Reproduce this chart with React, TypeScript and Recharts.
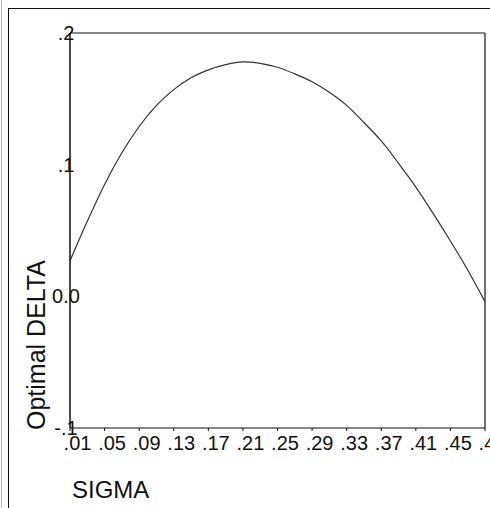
import { LineChart, Line, XAxis, YAxis, ReferenceLine } from 'recharts';

const sigma = [
  0.01, 0.03, 0.05, 0.07, 0.09, 0.11, 0.13, 0.15, 0.17, 0.19, 0.21, 0.23, 0.25,
  0.27, 0.29, 0.31, 0.33, 0.35, 0.37, 0.39, 0.41, 0.43, 0.45, 0.47, 0.49,
];
const optimalDelta = [
  0.027, 0.057, 0.085, 0.109, 0.129, 0.145, 0.157, 0.166, 0.172, 0.176, 0.178,
  0.177, 0.174, 0.169, 0.163, 0.155, 0.145, 0.132, 0.118, 0.101, 0.083, 0.063,
  0.042, 0.02, -0.004,
];
const xTicks = [0.01, 0.05, 0.09, 0.13, 0.17, 0.21, 0.25, 0.29, 0.33, 0.37, 0.41, 0.45, 0.49];
const xTickLabels = ['.01', '.05', '.09', '.13', '.17', '.21', '.25', '.29', '.33', '.37', '.41', '.45', '.49'];
const yTicks = [-0.1, 0, 0.1, 0.2];
const yTickLabels = ['-.1', '0.0', '.1', '.2'];

const data = sigma.map((s, i) => ({ sigma: s, delta: optimalDelta[i] }));

const FONT = '"Liberation Sans", Arial, sans-serif';
const INK = '#111';

function XTick(props: any) {
  const { x, y, payload } = props;
  const i = xTicks.indexOf(payload.value);
  return (
    <text x={x + 7.5} y={y + 17} textAnchor="middle" fontFamily={FONT} fontSize={20} fill={INK}>
      {i >= 0 ? xTickLabels[i] : payload.value}
    </text>
  );
}

function YTick(props: any) {
  const { x, y, payload } = props;
  const i = yTicks.indexOf(payload.value);
  return (
    <text x={x - 4} y={y} textAnchor="middle" dominantBaseline="central" fontFamily={FONT} fontSize={20} fill={INK}>
      {i >= 0 ? yTickLabels[i] : payload.value}
    </text>
  );
}

function SigmaLabel(props: any) {
  const vb = props.viewBox || { x: 61, y: 419 };
  return (
    <text x={vb.x + 2} y={vb.y + 70} fontFamily={FONT} fontSize={24} fill={INK}>
      SIGMA
    </text>
  );
}

function DeltaLabel(props: any) {
  const vb = props.viewBox || { x: 0, y: 24, height: 395 };
  const x = vb.x + 36;
  const y = vb.y + vb.height + 2;
  return (
    <text x={x} y={y} transform={`rotate(-90 ${x} ${y})`} fontFamily={FONT} fontSize={25} fill={INK}>
      Optimal DELTA
    </text>
  );
}

export default function App() {
  return (
    <div style={{ position: 'relative', width: 490, height: 508, background: '#fff', overflow: 'hidden' }}>
      <style>{'body{margin:0;overflow:hidden}'}</style>
      <div style={{ position: 'absolute', left: 1, top: 0, width: 1, height: 508, background: '#bbb' }} />
      <div
        style={{
          position: 'absolute',
          left: 8,
          top: 8,
          right: 0,
          bottom: 0,
          borderTop: `1px solid ${INK}`,
          borderLeft: `1px solid ${INK}`,
        }}
      />
      <div style={{ position: 'absolute', left: 9, top: 9 }}>
        <LineChart width={481} height={499} data={data} margin={{ top: 24, right: 5, left: 0, bottom: 0 }}>
          <XAxis
            dataKey="sigma"
            type="number"
            domain={[0.01, 0.49]}
            ticks={xTicks}
            interval={0}
            height={80}
            tickSize={3}
            tickMargin={2}
            stroke={INK}
            tick={<XTick />}
            label={<SigmaLabel />}
          />
          <YAxis
            type="number"
            domain={[-0.1, 0.2]}
            ticks={yTicks}
            interval={0}
            width={61}
            tickSize={0}
            tickMargin={0}
            stroke={INK}
            strokeWidth={1.5}
            tick={<YTick />}
            label={<DeltaLabel />}
          />
          <ReferenceLine y={0.2} stroke={INK} strokeWidth={1.2} />
          <ReferenceLine x={0.49} stroke={INK} strokeWidth={1.2} />
          <Line
            type="monotone"
            dataKey="delta"
            stroke="#333"
            strokeWidth={1.2}
            dot={false}
            isAnimationActive={false}
          />
        </LineChart>
      </div>
    </div>
  );
}
